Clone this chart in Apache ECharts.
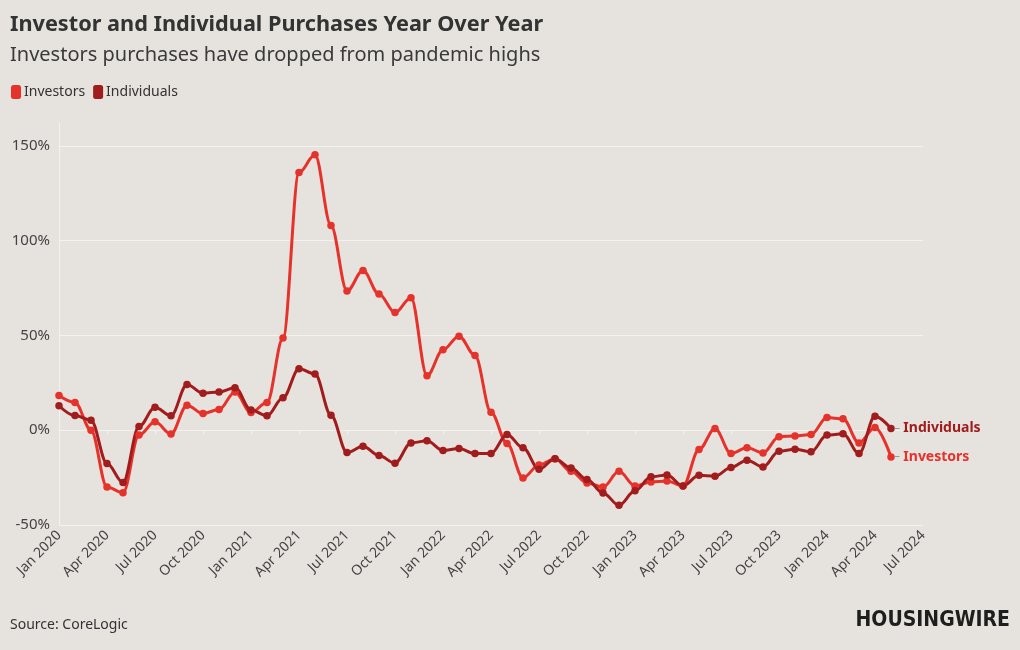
<!DOCTYPE html>
<html>
<head>
<meta charset="utf-8">
<script src="https://cdn.jsdelivr.net/npm/echarts@6/dist/echarts.min.js"></script>
<style>
html,body{margin:0;padding:0;background:#e6e2dd;}
#chart{width:1020px;height:650px;}
</style>
</head>
<body>
<div id="chart"></div>
<script>
var months = ['Jan','Feb','Mar','Apr','May','Jun','Jul','Aug','Sep','Oct','Nov','Dec'];
var categories = [];
for (var y = 2020; y <= 2024; y++) {
  for (var m = 0; m < 12; m++) {
    if (y === 2024 && m > 6) break;
    categories.push(months[m] + ' ' + y);
  }
}
var investors = [18.3,14.6,0,-30,-33,-2.6,4.4,-2,13.2,8.8,10.9,20.2,
  9.3,14.6,48.6,135.9,145.2,107.9,73.4,84.2,71.8,62.0,69.9,28.7,
  42.4,49.6,39.4,9.5,-7.0,-25.2,-18.3,-15,-21.7,-27.8,-30,-21.7,
  -29.4,-27.3,-26.8,-29.4,-10.2,0.9,-12.3,-9.2,-12,-3.5,-3,-2.3,
  6.7,6.0,-6.7,1.4,-14.1];
var individuals = [12.9,7.7,5.3,-17.6,-27.6,1.9,12.1,7.6,24.1,19.5,20.2,22.4,
  10.7,7.6,17.1,32.4,29.6,7.9,-11.8,-8.5,-13.4,-17.4,-6.7,-5.6,
  -10.7,-9.7,-12.3,-12.3,-2.3,-9.3,-20.6,-15,-19.9,-26,-33.1,-39.6,
  -32,-24.6,-23.6,-29.4,-23.8,-24.3,-19.7,-15.8,-19.4,-11.1,-10,-11.4,
  -2.6,-1.9,-12.3,7.4,0.9];
var yTicks = [-50, 0, 50, 100, 150];

var FONT = '"Noto Sans", "Open Sans", sans-serif';
var cInv = '#e5322b', cInd = '#a11c1c';

var chart = echarts.init(document.getElementById('chart'));
function mkSeries(name, data, color) {
  return {
    name: name, type: 'line', data: data,
    smooth: 0.35, smoothMonotone: 'x',
    symbol: 'circle', symbolSize: 7.5,
    lineStyle: {width: 3, color: color},
    itemStyle: {color: color},
    emphasis: {disabled: true},
    endLabel: {
      show: true,
      formatter: '{d|–} {n|' + name + '}',
      distance: 3,
      rich: {
        d: {color: '#999', fontSize: 12, fontFamily: FONT},
        n: {color: color, fontSize: 14, fontWeight: 'bold', fontFamily: FONT}
      }
    }
  };
}
chart.setOption({
  backgroundColor: '#e6e2dd',
  animation: false,
  title: [{
    text: 'Investor and Individual Purchases Year Over Year',
    left: 5, top: 9,
    textStyle: {fontFamily: FONT, fontSize: 21.7, fontWeight: 'bold', color: '#333'}
  }, {
    text: 'Investors purchases have dropped from pandemic highs',
    left: 5, top: 40,
    textStyle: {fontFamily: FONT, fontSize: 20, fontWeight: 'normal', color: '#3a3a3a'}
  }, {
    text: 'Source: CoreLogic',
    left: 5, top: 613,
    textStyle: {fontFamily: FONT, fontSize: 14, fontWeight: 'normal', color: '#333'}
  }, {
    text: 'HOUSINGWIRE',
    right: 5, top: 605,
    textStyle: {fontFamily: '"DejaVu Sans Condensed", "DejaVu Sans", sans-serif', fontSize: 21, fontWeight: 'bold', color: '#1e1e1e'}
  }],
  legend: {
    left: 6, top: 80,
    icon: 'roundRect', itemWidth: 10, itemHeight: 14, itemGap: 8,
    textStyle: {fontFamily: FONT, fontSize: 14, color: '#333', padding: [0,0,0,-2]},
    data: ['Investors', 'Individuals']
  },
  grid: {left: 59, right: 97, top: 123, bottom: 125, containLabel: false},
  xAxis: {
    type: 'category', data: categories, boundaryGap: false,
    axisLine: {show: true, lineStyle: {color: '#f4f2ef', width: 1}},
    axisTick: {show: true, interval: 2, length: 4, lineStyle: {color: '#f4f2ef'}},
    axisLabel: {interval: 2, rotate: 45, fontFamily: FONT, fontSize: 14, color: '#444', margin: 8},
    splitLine: {show: false}
  },
  yAxis: {
    type: 'value', min: -50, max: 162, interval: 50,
    axisLine: {show: true, lineStyle: {color: '#f4f2ef', width: 1}},
    axisTick: {show: false},
    axisLabel: {showMaxLabel: false, fontFamily: FONT, fontSize: 15, color: '#444', margin: 9,
      formatter: function(v){ return yTicks.indexOf(v) >= 0 ? v + '%' : ''; }},
    splitLine: {show: true, showMaxLine: false, lineStyle: {color: '#f4f2ef', width: 1}}
  },
  series: [mkSeries('Investors', investors, cInv), mkSeries('Individuals', individuals, cInd)]
});
</script>
</body>
</html>
